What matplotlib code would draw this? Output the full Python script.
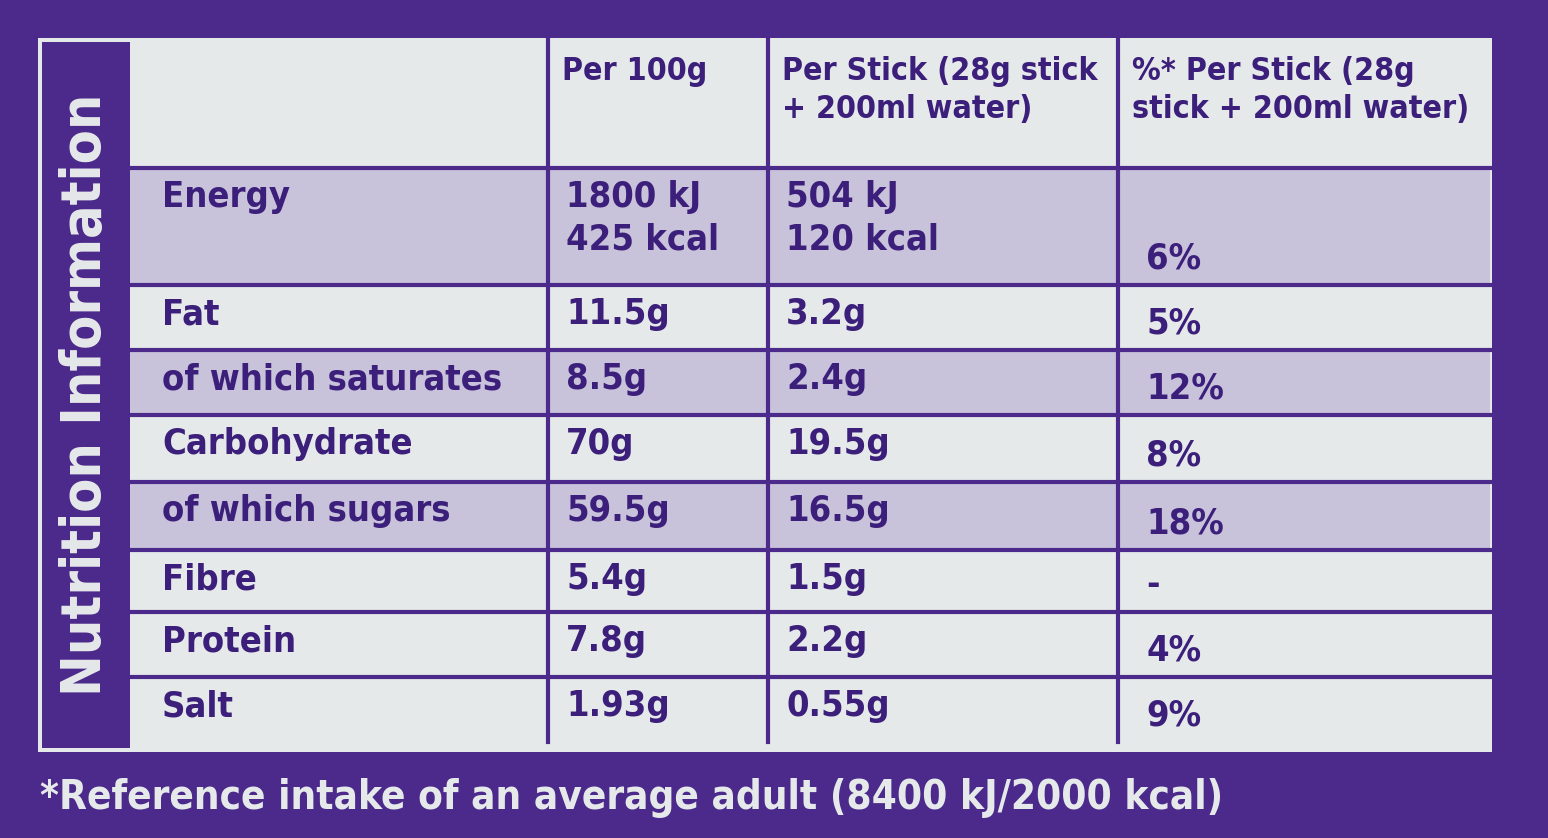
import matplotlib.pyplot as plt
from matplotlib.patches import Rectangle

plt.rcParams['font.family'] = ['Liberation Sans Narrow', 'DejaVu Sans']
plt.rcParams['font.stretch'] = 'condensed'

# table data
headers = ["Per 100g", "Per Stick (28g stick\n+ 200ml water)", "%* Per Stick (28g\nstick + 200ml water)"]
nutrients = ["Energy", "Fat", "of which saturates", "Carbohydrate", "of which sugars",
             "Fibre", "Protein", "Salt"]
per_100g = ["1800 kJ\n425 kcal", "11.5g", "8.5g", "70g", "59.5g", "5.4g", "7.8g", "1.93g"]
per_stick = ["504 kJ\n120 kcal", "3.2g", "2.4g", "19.5g", "16.5g", "1.5g", "2.2g", "0.55g"]
pct_ri = ["6%", "5%", "12%", "8%", "18%", "-", "4%", "9%"]
shaded = [True, False, True, False, True, False, False, False]
footnote = "*Reference intake of an average adult (8400 kJ/2000 kcal)"

purple = "#4b2a8c"
ink = "#3b1f7a"
panel = "#e6e9ea"
shade = "#c8c2da"

col_x = [130, 548, 768, 1118, 1490]
row_y = [40, 168, 285, 350, 415, 482, 550, 612, 677, 742]

fig = plt.figure(figsize=(15.48, 8.38), dpi=100)
fig.patch.set_facecolor(purple)
ax = fig.add_axes([0, 0, 1, 1])
ax.set_xlim(0, 1548)
ax.set_ylim(838, 0)
ax.axis("off")

ax.add_patch(Rectangle((38, 38), 1454, 714, fc=panel, ec="none"))
ax.add_patch(Rectangle((42, 42), 88, 706, fc=purple, ec="none"))
ax.text(86, 395, "Nutrition Information", rotation=90, color=panel, fontsize=40,
        fontweight="bold", ha="center", va="center")

for i, sh in enumerate(shaded):
    if sh:
        ax.add_patch(Rectangle((col_x[0], row_y[i + 1]), col_x[-1] - col_x[0],
                               row_y[i + 2] - row_y[i + 1], fc=shade, ec="none"))

for y in row_y[1:-1]:
    ax.plot([col_x[0], col_x[-1]], [y, y], color=purple, lw=3)
for x in col_x[1:-1]:
    ax.plot([x, x], [row_y[0], row_y[-1]], color=purple, lw=3)

fs = 26
for j, h in enumerate(headers):
    ax.text(col_x[j + 1] + 14, row_y[0] + 16, h, color=ink, fontsize=23, fontweight="bold",
            ha="left", va="top", linespacing=1.3)

for i in range(len(nutrients)):
    top = row_y[i + 1] + 12
    vals = [nutrients[i], per_100g[i], per_stick[i]]
    for j, v in enumerate(vals):
        ax.text(col_x[j] + (32 if j == 0 else 18), top, v, color=ink, fontsize=fs,
                fontweight="bold", ha="left", va="top", linespacing=1.3)
    ax.text(col_x[3] + 28, row_y[i + 2] - 10, pct_ri[i], color=ink, fontsize=fs,
            fontweight="bold", ha="left", va="bottom")

ax.text(40, 798, footnote, color=panel, fontsize=29, fontweight="bold", ha="left", va="center")

fig.savefig("out.png", dpi=100, facecolor=fig.get_facecolor())
